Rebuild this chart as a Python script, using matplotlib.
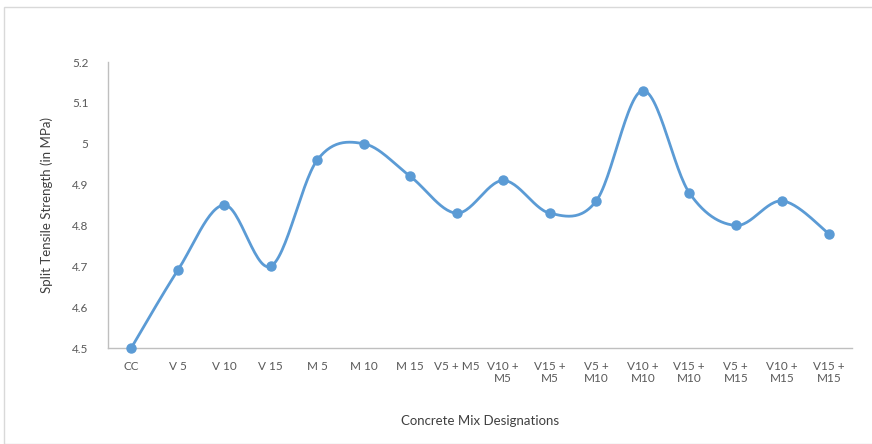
import numpy as np
import matplotlib.pyplot as plt
from matplotlib.patches import Rectangle

plt.rcParams['font.family'] = ['Lato', 'DejaVu Sans']

# data
mixes = ["CC", "V 5", "V 10", "V 15", "M 5", "M 10", "M 15", "V5 + M5",
         "V10 +\nM5", "V15 +\nM5", "V5 +\nM10", "V10 +\nM10", "V15 +\nM10",
         "V5 +\nM15", "V10 +\nM15", "V15 +\nM15"]
strength = [4.50, 4.69, 4.85, 4.70, 4.96, 5.00, 4.92, 4.83,
            4.91, 4.83, 4.86, 5.13, 4.88, 4.80, 4.86, 4.78]
yticks = [4.5, 4.6, 4.7, 4.8, 4.9, 5, 5.1, 5.2]


def smooth(x, y, n=30):
    # excel-like bezier smoothing through all points
    x = np.asarray(x, float)
    y = np.asarray(y, float)
    px = np.concatenate([[x[0]], x, [x[-1]]])
    py = np.concatenate([[y[0]], y, [y[-1]]])
    sx, sy = [], []
    t = np.linspace(0, 1, n)
    for i in range(len(x) - 1):
        p0 = np.array([x[i], y[i]])
        p3 = np.array([x[i + 1], y[i + 1]])
        p1 = p0 + (np.array([px[i + 2], py[i + 2]]) - np.array([px[i], py[i]])) / 6
        p2 = p3 - (np.array([px[i + 3], py[i + 3]]) - np.array([px[i + 1], py[i + 1]])) / 6
        b = ((1 - t) ** 3)[:, None] * p0 + (3 * (1 - t) ** 2 * t)[:, None] * p1 \
            + (3 * (1 - t) * t ** 2)[:, None] * p2 + (t ** 3)[:, None] * p3
        sx.extend(b[:, 0])
        sy.extend(b[:, 1])
    return sx, sy


fig = plt.figure(figsize=(8.72, 4.44), dpi=100)
fig.patches.append(Rectangle((4 / 872, 0), 1, 1 - 7 / 444, transform=fig.transFigure,
                             fill=False, edgecolor="#d9d9d9", lw=1))
ax = fig.add_axes([108 / 872, 1 - 348 / 444, (852 - 108) / 872, (348 - 62) / 444])

xs = np.arange(len(mixes))
cx, cy = smooth(xs, strength)
ax.plot(cx, cy, color="#5b9bd5", lw=2, zorder=2)
ax.plot(xs, strength, "o", color="#5b9bd5", ms=6.5, zorder=3, clip_on=False)

ax.set_xlim(-0.5, len(mixes) - 0.5)
ax.set_ylim(4.5, 5.2)
ax.set_yticks(yticks)
ax.set_yticklabels([f"{v:g}" for v in yticks])
ax.set_xticks(xs)
ax.set_xticklabels(mixes)
ax.tick_params(length=0, colors="#595959", labelsize=8.5)
ax.tick_params(axis="y", pad=14)
ax.tick_params(axis="x", pad=9)
for s in ["top", "right"]:
    ax.spines[s].set_visible(False)
for s in ["left", "bottom"]:
    ax.spines[s].set_color("#bfbfbf")
    ax.spines[s].set_linewidth(1)

ax.set_xlabel("Concrete Mix Designations", color="#404040", fontsize=9.5, labelpad=22)
ax.set_ylabel("Split Tensile Strength (in MPa)", color="#404040", fontsize=9.5, labelpad=14)

fig.savefig("out.png", dpi=100)
